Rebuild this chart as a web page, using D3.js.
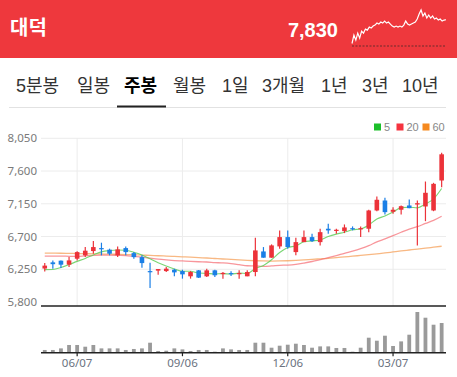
<!DOCTYPE html>
<html><head><meta charset="utf-8">
<script src="https://cdn.jsdelivr.net/npm/d3@7/dist/d3.min.js"></script>
<style>
html,body{margin:0;padding:0;background:#fff;}
svg{display:block;font-family:"Liberation Sans","Noto Sans CJK KR",sans-serif;}
</style></head>
<body><svg id="c" width="457" height="377"></svg>
<script>
const stockName = "대덕";
const lastPrice = 7830;
const tabs = ["5분봉","일봉","주봉","월봉","1일","3개월","1년","3년","10년"];
const activeTab = "주봉";
const dates = ["2021-05-10","2021-05-17","2021-05-24","2021-05-31","2021-06-07","2021-06-14","2021-06-21","2021-06-28","2021-07-05","2021-07-12","2021-07-19","2021-07-26","2021-08-02","2021-08-09","2021-08-16","2021-08-23","2021-08-30","2021-09-06","2021-09-13","2021-09-20","2021-09-27","2021-10-04","2021-10-11","2021-10-18","2021-10-25","2021-11-01","2021-11-08","2021-11-15","2021-11-22","2021-11-29","2021-12-06","2021-12-13","2021-12-20","2021-12-27","2022-01-03","2022-01-10","2022-01-17","2022-01-24","2022-01-31","2022-02-07","2022-02-14","2022-02-21","2022-02-28","2022-03-07","2022-03-14","2022-03-21","2022-03-28","2022-04-04","2022-04-11","2022-04-18"];
const opens  = [6260,6345,6368,6313,6395,6441,6500,6541,6519,6441,6541,6472,6417,6225,6231,6225,6244,6225,6153,6235,6153,6235,6190,6198,6190,6153,6212,6495,6409,6564,6692,6486,6623,6692,6623,6807,6784,6774,6815,6810,6807,7058,7195,7040,7068,7127,7140,7113,7058,7470];
const highs  = [6335,6372,6372,6417,6496,6555,6637,6615,6533,6564,6564,6486,6441,6341,6253,6280,6258,6244,6225,6240,6258,6244,6212,6221,6235,6235,6684,6555,6592,6784,6784,6684,6784,6738,6807,6876,6807,6866,6839,6839,7068,7250,7232,7103,7127,7209,7195,7456,7438,7850];
const lows   = [6220,6258,6266,6280,6372,6417,6464,6441,6441,6417,6441,6395,6272,5992,6176,6211,6153,6121,6121,6130,6143,6143,6121,6157,6121,6153,6153,6409,6409,6532,6532,6441,6623,6623,6578,6738,6738,6747,6784,6692,6760,7048,7003,7013,7003,7090,6578,6911,7048,7378];
const closes = [6300,6320,6313,6372,6486,6505,6555,6527,6464,6523,6486,6417,6335,6211,6253,6258,6207,6180,6212,6135,6235,6167,6200,6184,6198,6212,6509,6409,6578,6692,6555,6623,6692,6637,6760,6784,6793,6825,6801,6815,7058,7205,7035,7068,7117,7090,7158,7301,7424,7830];
const volumes = [68,68,108,193,193,150,193,108,108,108,68,93,108,250,43,50,108,83,43,68,68,25,108,83,68,68,250,250,125,175,200,225,193,125,158,158,118,118,25,125,375,300,425,168,283,450,1018,875,700,743];
// moving averages before enough weekly history is shown
const ma5Prior = [6245,6247,6275,6315];
const ma20Prior = [6431,6431,6431,6428,6427,6434,6441,6445,6445,6441,6437,6427,6417,6402,6388,6378,6370,6364,6358];
const ma60 = [6472,6471,6470,6468,6466,6464,6462,6460,6458,6455,6452,6448,6445,6440,6436,6431,6426,6421,6416,6410,6405,6398,6391,6385,6378,6372,6367,6364,6363,6364,6367,6372,6378,6386,6393,6400,6410,6420,6430,6440,6450,6462,6474,6488,6502,6515,6528,6540,6553,6566];
const yTicks = [5800,6250,6700,7150,7600,8050];
const xTicks = ["2021-06-07","2021-09-06","2021-12-06","2022-03-07"];
const legendItems = [{label:"5",color:"#1dbf2a"},{label:"20",color:"#f5333f"},{label:"60",color:"#f5891f"}];
const spark = [7240,7448,7323,7498,7373,7548,7498,7598,7573,7648,7623,7673,7698,7748,7723,7773,7748,7798,7748,7773,7723,7673,7648,7673,7648,7673,7648,7698,7798,7723,7698,7723,7748,7773,7848,7973,8073,7923,7998,7873,7948,7873,7923,7848,7873,7823,7848,7798,7823,7830];

const svg = d3.select("#c");
const RED = "#ec3239", BLUE = "#1a7fe6";

// header
svg.append("rect").attr("x",0).attr("y",0).attr("width",457).attr("height",58).attr("fill","#ee383d");
svg.append("text").attr("x",10).attr("y",35).attr("fill","#fff").attr("font-size",20).attr("font-weight","bold")
  .attr("font-family","'Noto Sans CJK KR',sans-serif").text(stockName);
svg.append("text").attr("x",338).attr("y",37).attr("text-anchor","end").attr("fill","#fff").attr("font-size",20)
  .attr("font-weight","bold").text(d3.format(",")(lastPrice));
const sx = d3.scaleLinear().domain([0,spark.length-1]).range([352,446]);
const sy = d3.scaleLinear().domain([d3.min(spark),d3.max(spark)]).range([43.5,10]);
svg.append("line").attr("x1",352).attr("x2",446).attr("y1",46).attr("y2",46).attr("stroke","#6b2a2c").attr("stroke-width",1).attr("stroke-dasharray","2,1.5");
svg.append("path").datum(spark).attr("fill","none").attr("stroke","#fff").attr("stroke-width",1.2)
  .attr("d",d3.line().x((d,i)=>sx(i)).y(d=>sy(d)));

// tabs
const tabX = [16,77,124,173,222,262,321,362,402];
tabs.forEach((t,i)=>{
  svg.append("text").attr("x",tabX[i]).attr("y",92).attr("font-size",18)
    .attr("fill", t===activeTab ? "#000" : "#333").attr("font-weight", t===activeTab ? "bold":"normal").text(t);
});
svg.append("line").attr("x1",9).attr("x2",446).attr("y1",107.5).attr("y2",107.5).attr("stroke","#e2e2e2");
svg.append("rect").attr("x",117).attr("y",105.5).attr("width",49).attr("height",2).attr("fill","#222");

// legend
let lx = 374;
legendItems.forEach(it=>{
  svg.append("rect").attr("x",lx).attr("y",123.5).attr("width",7).attr("height",7).attr("fill",it.color);
  const t = svg.append("text").attr("x",lx+10).attr("y",130.5).attr("font-size",11).attr("fill","#888").text(it.label);
  lx += it.label.length===1 ? 22.5 : 26;
});

// scales
const x = d3.scaleBand().domain(dates).range([40.7,445.7]);
const cx = d => x(d) + x.bandwidth()/2;
const y = d3.scaleLinear().domain([5800,8050]).range([302,138.3]);
const vMax = d3.max(volumes);
const vy = d3.scaleLinear().domain([0,vMax]).range([352.7,312]);

// grid
svg.append("g").selectAll("line").data(yTicks.filter(v=>v>5800)).join("line")
  .attr("x1",41).attr("x2",446).attr("y1",d=>y(d)).attr("y2",d=>y(d)).attr("stroke","#ececec");
svg.append("g").selectAll("line").data(xTicks).join("line")
  .attr("x1",d=>cx(d)).attr("x2",d=>cx(d)).attr("y1",138).attr("y2",306).attr("stroke","#ececec");

// y axis labels
const yAxis = d3.axisLeft(y).tickValues(yTicks).tickFormat(d3.format(",")).tickSize(0).tickPadding(4);
const ga = svg.append("g").attr("transform","translate(41,0)").call(yAxis);
ga.select(".domain").remove();
ga.selectAll("text").attr("font-size",11.5).attr("fill","#7a7a7a").attr("font-family","'Noto Sans',sans-serif");

// moving averages
const ma5 = closes.map((c,i)=> i<4 ? ma5Prior[i] : d3.mean(closes.slice(i-4,i+1)));
const ma20 = closes.map((c,i)=> i<19 ? ma20Prior[i] : d3.mean(closes.slice(i-19,i+1)));
const line = d3.line().x((d,i)=>cx(dates[i])).y(d=>y(d)).curve(d3.curveMonotoneX);
svg.append("path").datum(ma60).attr("fill","none").attr("stroke","#f5a05a").attr("stroke-opacity",0.75).attr("stroke-width",1.3).attr("d",line);
svg.append("path").datum(ma20).attr("fill","none").attr("stroke","#f56a70").attr("stroke-opacity",0.7).attr("stroke-width",1.3).attr("d",line);
svg.append("path").datum(ma5).attr("fill","none").attr("stroke","#62cf5a").attr("stroke-opacity",0.85).attr("stroke-width",1.1).attr("d",line);

// candles
const candles = dates.map((d,i)=>({d,o:opens[i],h:highs[i],l:lows[i],c:closes[i]}));
const g = svg.append("g");
g.selectAll("line").data(candles).join("line")
  .attr("x1",d=>cx(d.d)).attr("x2",d=>cx(d.d)).attr("y1",d=>y(d.h)).attr("y2",d=>y(d.l))
  .attr("stroke",d=>d.c>=d.o?RED:BLUE).attr("stroke-width",1.2);
g.selectAll("rect").data(candles).join("rect")
  .attr("x",d=>cx(d.d)-2.3).attr("width",4.6)
  .attr("y",d=>y(Math.max(d.o,d.c)))
  .attr("height",d=>Math.max(1.2, Math.abs(y(d.o)-y(d.c))))
  .attr("fill",d=>d.c>=d.o?RED:BLUE);

// price bottom line
svg.append("line").attr("x1",41).attr("x2",446).attr("y1",306).attr("y2",306).attr("stroke","#222").attr("stroke-width",1.5);

// volume
svg.append("g").selectAll("rect").data(volumes).join("rect")
  .attr("x",(v,i)=>cx(dates[i])-1.9).attr("width",3.8)
  .attr("y",v=>vy(v)).attr("height",v=>vy(0)-vy(v)).attr("fill","#9a9a9a");
const xAxis = d3.axisBottom(x).tickValues(xTicks).tickFormat(d=>d.slice(5).replace("-","/")).tickSize(3.5).tickPadding(3);
const gx = svg.append("g").attr("transform","translate(0,352.7)").call(xAxis);
gx.select(".domain").attr("d","M41,0H446").attr("stroke","#222").attr("stroke-width",1.5);
gx.selectAll(".tick line").attr("stroke","#222").attr("stroke-width",1.2);
gx.selectAll("text").attr("font-size",11.5).attr("fill","#6b7280").attr("font-family","'Noto Sans',sans-serif");
</script></body></html>
